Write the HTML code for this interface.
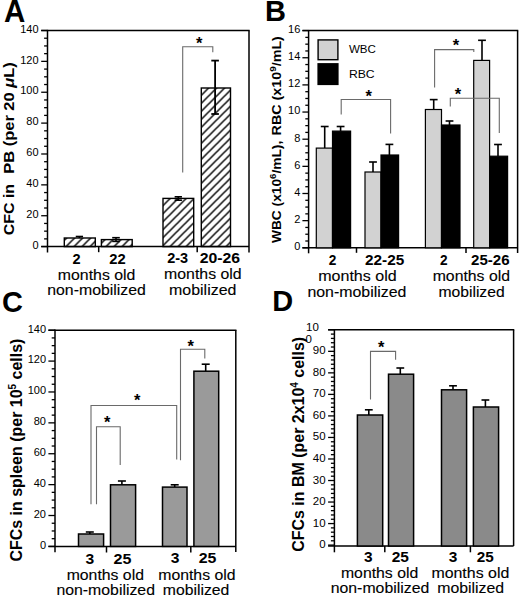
<!DOCTYPE html><html><head><meta charset="utf-8"><style>html,body{margin:0;padding:0;background:#fff;}svg{display:block;}text{font-family:"Liberation Sans",sans-serif;white-space:pre;}</style></head><body>
<svg width="520" height="600" viewBox="0 0 520 600">
<defs><pattern id="hatch" patternUnits="userSpaceOnUse" x="0.6" y="0" width="8" height="8"><path d="M-1,9 L9,-1 M-1,1 L1,-1 M7,9 L9,7" stroke="#111" stroke-width="1.55"/></pattern></defs>
<rect width="520" height="600" fill="#fff"/>
<text x="3.9" y="21.5" font-size="31" font-weight="bold" text-anchor="start" textLength="21.3" lengthAdjust="spacingAndGlyphs" fill="#000">A</text>
<text x="265.1" y="21.4" font-size="29" font-weight="bold" text-anchor="start" fill="#000">B</text>
<text x="2.1" y="311.5" font-size="30" font-weight="bold" text-anchor="start" textLength="20.94" lengthAdjust="spacingAndGlyphs" fill="#000">C</text>
<text x="272.3" y="311.3" font-size="30.2" font-weight="bold" text-anchor="start" textLength="20.94" lengthAdjust="spacingAndGlyphs" fill="#000">D</text>
<line x1="41.2" y1="246.6" x2="47.5" y2="246.6" stroke="#000" stroke-width="1.3"/>
<text x="38.6" y="248.8" font-size="11" text-anchor="end" fill="#000">0</text>
<line x1="44.1" y1="238.88" x2="47.5" y2="238.88" stroke="#000" stroke-width="1.3"/>
<line x1="44.1" y1="231.16" x2="47.5" y2="231.16" stroke="#000" stroke-width="1.3"/>
<line x1="44.1" y1="223.45" x2="47.5" y2="223.45" stroke="#000" stroke-width="1.3"/>
<line x1="41.2" y1="215.73" x2="47.5" y2="215.73" stroke="#000" stroke-width="1.3"/>
<text x="38.6" y="217.93" font-size="11" text-anchor="end" fill="#000">20</text>
<line x1="44.1" y1="208.01" x2="47.5" y2="208.01" stroke="#000" stroke-width="1.3"/>
<line x1="44.1" y1="200.29" x2="47.5" y2="200.29" stroke="#000" stroke-width="1.3"/>
<line x1="44.1" y1="192.57" x2="47.5" y2="192.57" stroke="#000" stroke-width="1.3"/>
<line x1="41.2" y1="184.86" x2="47.5" y2="184.86" stroke="#000" stroke-width="1.3"/>
<text x="38.6" y="187.06" font-size="11" text-anchor="end" fill="#000">40</text>
<line x1="44.1" y1="177.14" x2="47.5" y2="177.14" stroke="#000" stroke-width="1.3"/>
<line x1="44.1" y1="169.42" x2="47.5" y2="169.42" stroke="#000" stroke-width="1.3"/>
<line x1="44.1" y1="161.7" x2="47.5" y2="161.7" stroke="#000" stroke-width="1.3"/>
<line x1="41.2" y1="153.99" x2="47.5" y2="153.99" stroke="#000" stroke-width="1.3"/>
<text x="38.6" y="156.19" font-size="11" text-anchor="end" fill="#000">60</text>
<line x1="44.1" y1="146.27" x2="47.5" y2="146.27" stroke="#000" stroke-width="1.3"/>
<line x1="44.1" y1="138.55" x2="47.5" y2="138.55" stroke="#000" stroke-width="1.3"/>
<line x1="44.1" y1="130.83" x2="47.5" y2="130.83" stroke="#000" stroke-width="1.3"/>
<line x1="41.2" y1="123.11" x2="47.5" y2="123.11" stroke="#000" stroke-width="1.3"/>
<text x="38.6" y="125.31" font-size="11" text-anchor="end" fill="#000">80</text>
<line x1="44.1" y1="115.4" x2="47.5" y2="115.4" stroke="#000" stroke-width="1.3"/>
<line x1="44.1" y1="107.68" x2="47.5" y2="107.68" stroke="#000" stroke-width="1.3"/>
<line x1="44.1" y1="99.96" x2="47.5" y2="99.96" stroke="#000" stroke-width="1.3"/>
<line x1="41.2" y1="92.24" x2="47.5" y2="92.24" stroke="#000" stroke-width="1.3"/>
<text x="38.6" y="94.44" font-size="11" text-anchor="end" fill="#000">100</text>
<line x1="44.1" y1="84.53" x2="47.5" y2="84.53" stroke="#000" stroke-width="1.3"/>
<line x1="44.1" y1="76.81" x2="47.5" y2="76.81" stroke="#000" stroke-width="1.3"/>
<line x1="44.1" y1="69.09" x2="47.5" y2="69.09" stroke="#000" stroke-width="1.3"/>
<line x1="41.2" y1="61.37" x2="47.5" y2="61.37" stroke="#000" stroke-width="1.3"/>
<text x="38.6" y="63.57" font-size="11" text-anchor="end" fill="#000">120</text>
<line x1="44.1" y1="53.65" x2="47.5" y2="53.65" stroke="#000" stroke-width="1.3"/>
<line x1="44.1" y1="45.94" x2="47.5" y2="45.94" stroke="#000" stroke-width="1.3"/>
<line x1="44.1" y1="38.22" x2="47.5" y2="38.22" stroke="#000" stroke-width="1.3"/>
<line x1="41.2" y1="30.5" x2="47.5" y2="30.5" stroke="#000" stroke-width="1.3"/>
<text x="38.6" y="32.7" font-size="11" text-anchor="end" fill="#000">140</text>
<line x1="41.2" y1="30.5" x2="249.65" y2="30.5" stroke="#000" stroke-width="1.5"/>
<line x1="249" y1="30.5" x2="249" y2="252.5" stroke="#000" stroke-width="1.5"/>
<line x1="47.5" y1="29.85" x2="47.5" y2="252.5" stroke="#000" stroke-width="1.5"/>
<line x1="41.2" y1="246.6" x2="249" y2="246.6" stroke="#000" stroke-width="1.5"/>
<line x1="98.7" y1="246.6" x2="98.7" y2="252.2" stroke="#000" stroke-width="1.5"/>
<line x1="197.2" y1="246.6" x2="197.2" y2="252.2" stroke="#000" stroke-width="1.5"/>
<rect x="64.3" y="238" width="31.0" height="8.6" fill="url(#hatch)" stroke="#000" stroke-width="1.4"/>
<rect x="101.4" y="239.6" width="30.8" height="7.0" fill="url(#hatch)" stroke="#000" stroke-width="1.4"/>
<rect x="163" y="198.4" width="30.7" height="48.2" fill="url(#hatch)" stroke="#000" stroke-width="1.4"/>
<rect x="201.3" y="88" width="29.2" height="158.6" fill="url(#hatch)" stroke="#000" stroke-width="1.4"/>
<line x1="215.1" y1="60.6" x2="215.1" y2="114" stroke="#000" stroke-width="1.8"/>
<line x1="211.3" y1="60.6" x2="218.9" y2="60.6" stroke="#000" stroke-width="1.8"/>
<line x1="211.3" y1="114" x2="218.9" y2="114" stroke="#000" stroke-width="1.8"/>
<line x1="79.4" y1="236.5" x2="79.4" y2="238" stroke="#000" stroke-width="1.6"/>
<line x1="75.75" y1="236.5" x2="83.05" y2="236.5" stroke="#000" stroke-width="1.6"/>
<line x1="116" y1="237.7" x2="116" y2="241.4" stroke="#000" stroke-width="1.6"/>
<line x1="112.2" y1="237.7" x2="119.8" y2="237.7" stroke="#000" stroke-width="1.6"/>
<line x1="112.2" y1="241.4" x2="119.8" y2="241.4" stroke="#000" stroke-width="1.6"/>
<line x1="178.3" y1="196.8" x2="178.3" y2="200.2" stroke="#000" stroke-width="1.6"/>
<line x1="174.65" y1="196.8" x2="181.95" y2="196.8" stroke="#000" stroke-width="1.6"/>
<line x1="174.65" y1="200.2" x2="181.95" y2="200.2" stroke="#000" stroke-width="1.6"/>
<path d="M182.7,172.6 L182.7,46.8 L212.8,46.8 L212.8,52.2" fill="none" stroke="#6a6a6a" stroke-width="1.1"/>
<text x="199.1" y="49.03" font-size="16.5" font-weight="bold" text-anchor="middle" fill="#000">*</text>
<text transform="translate(14.4,235.2) rotate(-90)" x="0" y="0" font-size="15.5" font-weight="bold" textLength="51.3" lengthAdjust="spacingAndGlyphs" fill="#000">CFC in</text>
<text transform="translate(14.4,173.8) rotate(-90)" x="0" y="0" font-size="15.5" font-weight="bold" textLength="111.6" lengthAdjust="spacingAndGlyphs" fill="#000">PB (per 20 <tspan font-style="italic">μ</tspan>L)</text>
<text x="76.45" y="263.5" font-size="14" font-weight="bold" text-anchor="middle" textLength="8.1" lengthAdjust="spacingAndGlyphs" fill="#000">2</text>
<text x="117.5" y="263.5" font-size="14" font-weight="bold" text-anchor="middle" textLength="16.4" lengthAdjust="spacingAndGlyphs" fill="#000">22</text>
<text x="177.65" y="263.3" font-size="14" font-weight="bold" text-anchor="middle" textLength="20.9" lengthAdjust="spacingAndGlyphs" fill="#000">2-3</text>
<text x="219.9" y="263.3" font-size="14" font-weight="bold" text-anchor="middle" textLength="40.4" lengthAdjust="spacingAndGlyphs" fill="#000">20-26</text>
<text x="96.6" y="279.6" font-size="14.3" text-anchor="middle" textLength="77.5" lengthAdjust="spacingAndGlyphs" fill="#000" stroke="#000" stroke-width="0.12">months old</text>
<text x="96.55" y="294.6" font-size="14.3" text-anchor="middle" textLength="98.6" lengthAdjust="spacingAndGlyphs" fill="#000" stroke="#000" stroke-width="0.12">non-mobilized</text>
<text x="202.85" y="279.4" font-size="14.3" text-anchor="middle" textLength="77.5" lengthAdjust="spacingAndGlyphs" fill="#000" stroke="#000" stroke-width="0.12">months old</text>
<text x="202.75" y="294.8" font-size="14.3" text-anchor="middle" textLength="67.3" lengthAdjust="spacingAndGlyphs" fill="#000" stroke="#000" stroke-width="0.12">mobilized</text>
<line x1="302.40000000000003" y1="247.8" x2="308.6" y2="247.8" stroke="#000" stroke-width="1.3"/>
<text x="300.3" y="250.1" font-size="11" text-anchor="end" fill="#000">0</text>
<line x1="305.3" y1="241.01" x2="308.6" y2="241.01" stroke="#000" stroke-width="1.3"/>
<line x1="305.3" y1="234.23" x2="308.6" y2="234.23" stroke="#000" stroke-width="1.3"/>
<line x1="305.3" y1="227.44" x2="308.6" y2="227.44" stroke="#000" stroke-width="1.3"/>
<line x1="302.40000000000003" y1="220.65" x2="308.6" y2="220.65" stroke="#000" stroke-width="1.3"/>
<text x="300.3" y="222.95" font-size="11" text-anchor="end" fill="#000">2</text>
<line x1="305.3" y1="213.86" x2="308.6" y2="213.86" stroke="#000" stroke-width="1.3"/>
<line x1="305.3" y1="207.08" x2="308.6" y2="207.08" stroke="#000" stroke-width="1.3"/>
<line x1="305.3" y1="200.29" x2="308.6" y2="200.29" stroke="#000" stroke-width="1.3"/>
<line x1="302.40000000000003" y1="193.5" x2="308.6" y2="193.5" stroke="#000" stroke-width="1.3"/>
<text x="300.3" y="195.8" font-size="11" text-anchor="end" fill="#000">4</text>
<line x1="305.3" y1="186.71" x2="308.6" y2="186.71" stroke="#000" stroke-width="1.3"/>
<line x1="305.3" y1="179.93" x2="308.6" y2="179.93" stroke="#000" stroke-width="1.3"/>
<line x1="305.3" y1="173.14" x2="308.6" y2="173.14" stroke="#000" stroke-width="1.3"/>
<line x1="302.40000000000003" y1="166.35" x2="308.6" y2="166.35" stroke="#000" stroke-width="1.3"/>
<text x="300.3" y="168.65" font-size="11" text-anchor="end" fill="#000">6</text>
<line x1="305.3" y1="159.56" x2="308.6" y2="159.56" stroke="#000" stroke-width="1.3"/>
<line x1="305.3" y1="152.78" x2="308.6" y2="152.78" stroke="#000" stroke-width="1.3"/>
<line x1="305.3" y1="145.99" x2="308.6" y2="145.99" stroke="#000" stroke-width="1.3"/>
<line x1="302.40000000000003" y1="139.2" x2="308.6" y2="139.2" stroke="#000" stroke-width="1.3"/>
<text x="300.3" y="141.5" font-size="11" text-anchor="end" fill="#000">8</text>
<line x1="305.3" y1="132.41" x2="308.6" y2="132.41" stroke="#000" stroke-width="1.3"/>
<line x1="305.3" y1="125.62" x2="308.6" y2="125.62" stroke="#000" stroke-width="1.3"/>
<line x1="305.3" y1="118.84" x2="308.6" y2="118.84" stroke="#000" stroke-width="1.3"/>
<line x1="302.40000000000003" y1="112.05" x2="308.6" y2="112.05" stroke="#000" stroke-width="1.3"/>
<text x="300.3" y="114.35" font-size="11" text-anchor="end" fill="#000">10</text>
<line x1="305.3" y1="105.26" x2="308.6" y2="105.26" stroke="#000" stroke-width="1.3"/>
<line x1="305.3" y1="98.47" x2="308.6" y2="98.47" stroke="#000" stroke-width="1.3"/>
<line x1="305.3" y1="91.69" x2="308.6" y2="91.69" stroke="#000" stroke-width="1.3"/>
<line x1="302.40000000000003" y1="84.9" x2="308.6" y2="84.9" stroke="#000" stroke-width="1.3"/>
<text x="300.3" y="87.2" font-size="11" text-anchor="end" fill="#000">12</text>
<line x1="305.3" y1="78.11" x2="308.6" y2="78.11" stroke="#000" stroke-width="1.3"/>
<line x1="305.3" y1="71.32" x2="308.6" y2="71.32" stroke="#000" stroke-width="1.3"/>
<line x1="305.3" y1="64.54" x2="308.6" y2="64.54" stroke="#000" stroke-width="1.3"/>
<line x1="302.40000000000003" y1="57.75" x2="308.6" y2="57.75" stroke="#000" stroke-width="1.3"/>
<text x="300.3" y="60.05" font-size="11" text-anchor="end" fill="#000">14</text>
<line x1="305.3" y1="50.96" x2="308.6" y2="50.96" stroke="#000" stroke-width="1.3"/>
<line x1="305.3" y1="44.17" x2="308.6" y2="44.17" stroke="#000" stroke-width="1.3"/>
<line x1="305.3" y1="37.39" x2="308.6" y2="37.39" stroke="#000" stroke-width="1.3"/>
<line x1="302.40000000000003" y1="30.6" x2="308.6" y2="30.6" stroke="#000" stroke-width="1.3"/>
<text x="300.3" y="32.9" font-size="11" text-anchor="end" fill="#000">16</text>
<line x1="302.40000000000003" y1="30.6" x2="518.25" y2="30.6" stroke="#000" stroke-width="1.5"/>
<line x1="517.6" y1="30.6" x2="517.6" y2="253" stroke="#000" stroke-width="1.5"/>
<line x1="308.6" y1="29.950000000000003" x2="308.6" y2="253.3" stroke="#000" stroke-width="1.5"/>
<line x1="302.40000000000003" y1="247.8" x2="517.6" y2="247.8" stroke="#000" stroke-width="1.5"/>
<line x1="356.5" y1="247.8" x2="356.5" y2="252.8" stroke="#000" stroke-width="1.5"/>
<line x1="466" y1="247.8" x2="466" y2="253" stroke="#000" stroke-width="1.5"/>
<rect x="318.1" y="39.9" width="19.8" height="19.8" fill="#d2d2d2" stroke="#000" stroke-width="1.4"/>
<rect x="317.4" y="63.1" width="21.2" height="22" fill="#000"/>
<text x="348.9" y="53.4" font-size="11.5" text-anchor="start" textLength="27" lengthAdjust="spacingAndGlyphs" fill="#000">WBC</text>
<text x="348.9" y="78.2" font-size="11.5" text-anchor="start" textLength="25.8" lengthAdjust="spacingAndGlyphs" fill="#000">RBC</text>
<line x1="324.7" y1="126.5" x2="324.7" y2="148.1" stroke="#000" stroke-width="1.6"/>
<line x1="320.8" y1="126.5" x2="328.6" y2="126.5" stroke="#000" stroke-width="1.6"/>
<line x1="340.6" y1="126.5" x2="340.6" y2="131.1" stroke="#000" stroke-width="1.6"/>
<line x1="336.7" y1="126.5" x2="344.5" y2="126.5" stroke="#000" stroke-width="1.6"/>
<rect x="316.3" y="148.1" width="16.2" height="99.7" fill="#d2d2d2" stroke="#000" stroke-width="1.2"/>
<rect x="332.5" y="131.1" width="18.1" height="116.7" fill="#000" stroke="#000" stroke-width="1.2"/>
<line x1="373" y1="162" x2="373" y2="172" stroke="#000" stroke-width="1.6"/>
<line x1="369.1" y1="162" x2="376.9" y2="162" stroke="#000" stroke-width="1.6"/>
<line x1="389.4" y1="144.4" x2="389.4" y2="155" stroke="#000" stroke-width="1.6"/>
<line x1="385.5" y1="144.4" x2="393.3" y2="144.4" stroke="#000" stroke-width="1.6"/>
<rect x="365" y="172" width="16" height="75.8" fill="#d2d2d2" stroke="#000" stroke-width="1.2"/>
<rect x="381" y="155" width="17.6" height="92.8" fill="#000" stroke="#000" stroke-width="1.2"/>
<line x1="433.7" y1="99.6" x2="433.7" y2="109.5" stroke="#000" stroke-width="1.6"/>
<line x1="429.8" y1="99.6" x2="437.6" y2="99.6" stroke="#000" stroke-width="1.6"/>
<line x1="449.5" y1="121" x2="449.5" y2="125" stroke="#000" stroke-width="1.6"/>
<line x1="445.6" y1="121" x2="453.4" y2="121" stroke="#000" stroke-width="1.6"/>
<rect x="425.4" y="109.5" width="16.1" height="138.3" fill="#d2d2d2" stroke="#000" stroke-width="1.2"/>
<rect x="441.5" y="125" width="18.5" height="122.8" fill="#000" stroke="#000" stroke-width="1.2"/>
<line x1="482" y1="40.3" x2="482" y2="60.4" stroke="#000" stroke-width="1.6"/>
<line x1="478.1" y1="40.3" x2="485.9" y2="40.3" stroke="#000" stroke-width="1.6"/>
<line x1="498" y1="144.5" x2="498" y2="156.2" stroke="#000" stroke-width="1.6"/>
<line x1="494.1" y1="144.5" x2="501.9" y2="144.5" stroke="#000" stroke-width="1.6"/>
<rect x="473.7" y="60.4" width="15.9" height="187.4" fill="#d2d2d2" stroke="#000" stroke-width="1.2"/>
<rect x="489.6" y="156.2" width="18.0" height="91.6" fill="#000" stroke="#000" stroke-width="1.2"/>
<path d="M341.2,114.5 L341.2,99.5 L390.6,99.5 L390.6,133.6" fill="none" stroke="#6a6a6a" stroke-width="1.1"/>
<text x="368.6" y="102.33" font-size="16.5" font-weight="bold" text-anchor="middle" fill="#000">*</text>
<path d="M434.6,87.6 L434.6,49.6 L473.8,49.6 L473.8,52" fill="none" stroke="#6a6a6a" stroke-width="1.1"/>
<text x="456" y="51.33" font-size="16.5" font-weight="bold" text-anchor="middle" fill="#000">*</text>
<path d="M450.3,106.5 L450.3,98.2 L499.3,98.2 L499.3,133" fill="none" stroke="#6a6a6a" stroke-width="1.1"/>
<text x="458" y="99.83" font-size="16.5" font-weight="bold" text-anchor="middle" fill="#000">*</text>
<text transform="translate(281,243.1) rotate(-90)" x="0" y="0" font-size="13" font-weight="bold" textLength="102.4" lengthAdjust="spacingAndGlyphs" fill="#000">WBC (x10<tspan font-size="9" dy="-5">6</tspan><tspan dy="5">/mL),</tspan></text>
<text transform="translate(281,135.4) rotate(-90)" x="0" y="0" font-size="13" font-weight="bold" textLength="99.3" lengthAdjust="spacingAndGlyphs" fill="#000">RBC (x10<tspan font-size="9" dy="-5">9</tspan><tspan dy="5">/mL)</tspan></text>
<text x="332.5" y="265" font-size="14" font-weight="bold" text-anchor="middle" textLength="7.6" lengthAdjust="spacingAndGlyphs" fill="#000">2</text>
<text x="384.6" y="265" font-size="14" font-weight="bold" text-anchor="middle" textLength="39.2" lengthAdjust="spacingAndGlyphs" fill="#000">22-25</text>
<text x="443.8" y="265" font-size="14" font-weight="bold" text-anchor="middle" textLength="7.6" lengthAdjust="spacingAndGlyphs" fill="#000">2</text>
<text x="490.3" y="265" font-size="14" font-weight="bold" text-anchor="middle" textLength="38.5" lengthAdjust="spacingAndGlyphs" fill="#000">25-26</text>
<text x="357.45" y="281.3" font-size="14.3" text-anchor="middle" textLength="78.5" lengthAdjust="spacingAndGlyphs" fill="#000" stroke="#000" stroke-width="0.12">months old</text>
<text x="356.9" y="296.8" font-size="14.3" text-anchor="middle" textLength="99" lengthAdjust="spacingAndGlyphs" fill="#000" stroke="#000" stroke-width="0.12">non-mobilized</text>
<text x="471.35" y="281.3" font-size="14.3" text-anchor="middle" textLength="77.3" lengthAdjust="spacingAndGlyphs" fill="#000" stroke="#000" stroke-width="0.12">months old</text>
<text x="471.55" y="297.1" font-size="14.3" text-anchor="middle" textLength="66.3" lengthAdjust="spacingAndGlyphs" fill="#000" stroke="#000" stroke-width="0.12">mobilized</text>
<line x1="48.4" y1="546.4" x2="55" y2="546.4" stroke="#000" stroke-width="1.3"/>
<text x="46" y="548.7" font-size="11" text-anchor="end" fill="#000">0</text>
<line x1="51.7" y1="538.68" x2="55" y2="538.68" stroke="#000" stroke-width="1.3"/>
<line x1="51.7" y1="530.96" x2="55" y2="530.96" stroke="#000" stroke-width="1.3"/>
<line x1="51.7" y1="523.24" x2="55" y2="523.24" stroke="#000" stroke-width="1.3"/>
<line x1="48.4" y1="515.51" x2="55" y2="515.51" stroke="#000" stroke-width="1.3"/>
<text x="46" y="517.81" font-size="11" text-anchor="end" fill="#000">20</text>
<line x1="51.7" y1="507.79" x2="55" y2="507.79" stroke="#000" stroke-width="1.3"/>
<line x1="51.7" y1="500.07" x2="55" y2="500.07" stroke="#000" stroke-width="1.3"/>
<line x1="51.7" y1="492.35" x2="55" y2="492.35" stroke="#000" stroke-width="1.3"/>
<line x1="48.4" y1="484.63" x2="55" y2="484.63" stroke="#000" stroke-width="1.3"/>
<text x="46" y="486.93" font-size="11" text-anchor="end" fill="#000">40</text>
<line x1="51.7" y1="476.91" x2="55" y2="476.91" stroke="#000" stroke-width="1.3"/>
<line x1="51.7" y1="469.19" x2="55" y2="469.19" stroke="#000" stroke-width="1.3"/>
<line x1="51.7" y1="461.46" x2="55" y2="461.46" stroke="#000" stroke-width="1.3"/>
<line x1="48.4" y1="453.74" x2="55" y2="453.74" stroke="#000" stroke-width="1.3"/>
<text x="46" y="456.04" font-size="11" text-anchor="end" fill="#000">60</text>
<line x1="51.7" y1="446.02" x2="55" y2="446.02" stroke="#000" stroke-width="1.3"/>
<line x1="51.7" y1="438.3" x2="55" y2="438.3" stroke="#000" stroke-width="1.3"/>
<line x1="51.7" y1="430.58" x2="55" y2="430.58" stroke="#000" stroke-width="1.3"/>
<line x1="48.4" y1="422.86" x2="55" y2="422.86" stroke="#000" stroke-width="1.3"/>
<text x="46" y="425.16" font-size="11" text-anchor="end" fill="#000">80</text>
<line x1="51.7" y1="415.14" x2="55" y2="415.14" stroke="#000" stroke-width="1.3"/>
<line x1="51.7" y1="407.41" x2="55" y2="407.41" stroke="#000" stroke-width="1.3"/>
<line x1="51.7" y1="399.69" x2="55" y2="399.69" stroke="#000" stroke-width="1.3"/>
<line x1="48.4" y1="391.97" x2="55" y2="391.97" stroke="#000" stroke-width="1.3"/>
<text x="46" y="394.27" font-size="11" text-anchor="end" fill="#000">100</text>
<line x1="51.7" y1="384.25" x2="55" y2="384.25" stroke="#000" stroke-width="1.3"/>
<line x1="51.7" y1="376.53" x2="55" y2="376.53" stroke="#000" stroke-width="1.3"/>
<line x1="51.7" y1="368.81" x2="55" y2="368.81" stroke="#000" stroke-width="1.3"/>
<line x1="48.4" y1="361.09" x2="55" y2="361.09" stroke="#000" stroke-width="1.3"/>
<text x="46" y="363.39" font-size="11" text-anchor="end" fill="#000">120</text>
<line x1="51.7" y1="353.36" x2="55" y2="353.36" stroke="#000" stroke-width="1.3"/>
<line x1="51.7" y1="345.64" x2="55" y2="345.64" stroke="#000" stroke-width="1.3"/>
<line x1="51.7" y1="337.92" x2="55" y2="337.92" stroke="#000" stroke-width="1.3"/>
<line x1="48.4" y1="330.2" x2="55" y2="330.2" stroke="#000" stroke-width="1.3"/>
<text x="46" y="332.5" font-size="11" text-anchor="end" fill="#000">140</text>
<line x1="48.4" y1="330.2" x2="236.45000000000002" y2="330.2" stroke="#000" stroke-width="1.5"/>
<line x1="235.8" y1="330.2" x2="235.8" y2="552" stroke="#000" stroke-width="1.5"/>
<line x1="55" y1="329.55" x2="55" y2="552.3" stroke="#000" stroke-width="1.5"/>
<line x1="48.4" y1="546.4" x2="235.8" y2="546.4" stroke="#000" stroke-width="1.5"/>
<line x1="106.5" y1="546.4" x2="106.5" y2="552.5" stroke="#000" stroke-width="1.5"/>
<line x1="190.8" y1="546.4" x2="190.8" y2="552.5" stroke="#000" stroke-width="1.5"/>
<line x1="89.8" y1="532" x2="89.8" y2="534" stroke="#000" stroke-width="1.6"/>
<line x1="85.8" y1="532" x2="93.8" y2="532" stroke="#000" stroke-width="1.6"/>
<rect x="78.5" y="534" width="25.1" height="12.4" fill="#9a9a9a" stroke="#000" stroke-width="1.5"/>
<line x1="121.9" y1="481" x2="121.9" y2="484.8" stroke="#000" stroke-width="1.6"/>
<line x1="117.9" y1="481" x2="125.9" y2="481" stroke="#000" stroke-width="1.6"/>
<rect x="110.5" y="484.8" width="25.1" height="61.6" fill="#9a9a9a" stroke="#000" stroke-width="1.5"/>
<line x1="174.7" y1="484.8" x2="174.7" y2="487.1" stroke="#000" stroke-width="1.6"/>
<line x1="170.7" y1="484.8" x2="178.7" y2="484.8" stroke="#000" stroke-width="1.6"/>
<rect x="162.5" y="487.1" width="24.5" height="59.3" fill="#9a9a9a" stroke="#000" stroke-width="1.5"/>
<line x1="205.7" y1="364.2" x2="205.7" y2="371.2" stroke="#000" stroke-width="1.6"/>
<line x1="201.7" y1="364.2" x2="209.7" y2="364.2" stroke="#000" stroke-width="1.6"/>
<rect x="193.9" y="371.2" width="24.8" height="175.2" fill="#9a9a9a" stroke="#000" stroke-width="1.5"/>
<path d="M180.5,460.2 L180.5,349.2 L204.8,349.2 L204.8,358.5" fill="none" stroke="#6a6a6a" stroke-width="1.1"/>
<text x="190.7" y="351.93" font-size="16.5" font-weight="bold" text-anchor="middle" fill="#000">*</text>
<path d="M91,504.2 L91,405.5 L176.7,405.5 L176.7,459.5" fill="none" stroke="#6a6a6a" stroke-width="1.1"/>
<text x="137.1" y="406.43" font-size="16.5" font-weight="bold" text-anchor="middle" fill="#000">*</text>
<path d="M96.5,504.2 L96.5,426.8 L120.2,426.8 L120.2,465" fill="none" stroke="#6a6a6a" stroke-width="1.1"/>
<text x="107.1" y="428.23" font-size="16.5" font-weight="bold" text-anchor="middle" fill="#000">*</text>
<text transform="translate(21.7,561.6) rotate(-90)" x="0" y="0" font-size="16" font-weight="bold" textLength="223" lengthAdjust="spacingAndGlyphs" fill="#000">CFCs in spleen (per 10<tspan font-size="10" dy="-6">5</tspan><tspan dy="6"> cells)</tspan></text>
<text x="89.8" y="563.9" font-size="14" font-weight="bold" text-anchor="middle" textLength="8.7" lengthAdjust="spacingAndGlyphs" fill="#000">3</text>
<text x="122.5" y="563.9" font-size="14" font-weight="bold" text-anchor="middle" textLength="17.9" lengthAdjust="spacingAndGlyphs" fill="#000">25</text>
<text x="175" y="563.3" font-size="14" font-weight="bold" text-anchor="middle" textLength="8.7" lengthAdjust="spacingAndGlyphs" fill="#000">3</text>
<text x="207.6" y="563.3" font-size="14" font-weight="bold" text-anchor="middle" textLength="17.7" lengthAdjust="spacingAndGlyphs" fill="#000">25</text>
<text x="105.3" y="580.0" font-size="14.3" text-anchor="middle" textLength="77.3" lengthAdjust="spacingAndGlyphs" fill="#000" stroke="#000" stroke-width="0.12">months old</text>
<text x="105.7" y="594.9" font-size="14.3" text-anchor="middle" textLength="98.6" lengthAdjust="spacingAndGlyphs" fill="#000" stroke="#000" stroke-width="0.12">non-mobilized</text>
<text x="196.9" y="580.0" font-size="14.3" text-anchor="middle" textLength="77.3" lengthAdjust="spacingAndGlyphs" fill="#000" stroke="#000" stroke-width="0.12">months old</text>
<text x="196.1" y="594.9" font-size="14.3" text-anchor="middle" textLength="66.6" lengthAdjust="spacingAndGlyphs" fill="#000" stroke="#000" stroke-width="0.12">mobilized</text>
<line x1="328.09999999999997" y1="545.1" x2="334.4" y2="545.1" stroke="#000" stroke-width="1.3"/>
<text x="325.6" y="548.1" font-size="11.5" text-anchor="end" fill="#000">0</text>
<line x1="330.9" y1="540.79" x2="334.4" y2="540.79" stroke="#000" stroke-width="1.3"/>
<line x1="330.9" y1="536.49" x2="334.4" y2="536.49" stroke="#000" stroke-width="1.3"/>
<line x1="330.9" y1="532.18" x2="334.4" y2="532.18" stroke="#000" stroke-width="1.3"/>
<line x1="330.9" y1="527.88" x2="334.4" y2="527.88" stroke="#000" stroke-width="1.3"/>
<line x1="328.09999999999997" y1="523.57" x2="334.4" y2="523.57" stroke="#000" stroke-width="1.3"/>
<text x="325.6" y="526.57" font-size="11.5" text-anchor="end" fill="#000">10</text>
<line x1="330.9" y1="519.26" x2="334.4" y2="519.26" stroke="#000" stroke-width="1.3"/>
<line x1="330.9" y1="514.96" x2="334.4" y2="514.96" stroke="#000" stroke-width="1.3"/>
<line x1="330.9" y1="510.65" x2="334.4" y2="510.65" stroke="#000" stroke-width="1.3"/>
<line x1="330.9" y1="506.35" x2="334.4" y2="506.35" stroke="#000" stroke-width="1.3"/>
<line x1="328.09999999999997" y1="502.04" x2="334.4" y2="502.04" stroke="#000" stroke-width="1.3"/>
<text x="325.6" y="505.04" font-size="11.5" text-anchor="end" fill="#000">20</text>
<line x1="330.9" y1="497.73" x2="334.4" y2="497.73" stroke="#000" stroke-width="1.3"/>
<line x1="330.9" y1="493.43" x2="334.4" y2="493.43" stroke="#000" stroke-width="1.3"/>
<line x1="330.9" y1="489.12" x2="334.4" y2="489.12" stroke="#000" stroke-width="1.3"/>
<line x1="330.9" y1="484.82" x2="334.4" y2="484.82" stroke="#000" stroke-width="1.3"/>
<line x1="328.09999999999997" y1="480.51" x2="334.4" y2="480.51" stroke="#000" stroke-width="1.3"/>
<text x="325.6" y="483.51" font-size="11.5" text-anchor="end" fill="#000">30</text>
<line x1="330.9" y1="476.2" x2="334.4" y2="476.2" stroke="#000" stroke-width="1.3"/>
<line x1="330.9" y1="471.9" x2="334.4" y2="471.9" stroke="#000" stroke-width="1.3"/>
<line x1="330.9" y1="467.59" x2="334.4" y2="467.59" stroke="#000" stroke-width="1.3"/>
<line x1="330.9" y1="463.29" x2="334.4" y2="463.29" stroke="#000" stroke-width="1.3"/>
<line x1="328.09999999999997" y1="458.98" x2="334.4" y2="458.98" stroke="#000" stroke-width="1.3"/>
<text x="325.6" y="461.98" font-size="11.5" text-anchor="end" fill="#000">40</text>
<line x1="330.9" y1="454.67" x2="334.4" y2="454.67" stroke="#000" stroke-width="1.3"/>
<line x1="330.9" y1="450.37" x2="334.4" y2="450.37" stroke="#000" stroke-width="1.3"/>
<line x1="330.9" y1="446.06" x2="334.4" y2="446.06" stroke="#000" stroke-width="1.3"/>
<line x1="330.9" y1="441.76" x2="334.4" y2="441.76" stroke="#000" stroke-width="1.3"/>
<line x1="328.09999999999997" y1="437.45" x2="334.4" y2="437.45" stroke="#000" stroke-width="1.3"/>
<text x="325.6" y="440.45" font-size="11.5" text-anchor="end" fill="#000">50</text>
<line x1="330.9" y1="433.14" x2="334.4" y2="433.14" stroke="#000" stroke-width="1.3"/>
<line x1="330.9" y1="428.84" x2="334.4" y2="428.84" stroke="#000" stroke-width="1.3"/>
<line x1="330.9" y1="424.53" x2="334.4" y2="424.53" stroke="#000" stroke-width="1.3"/>
<line x1="330.9" y1="420.23" x2="334.4" y2="420.23" stroke="#000" stroke-width="1.3"/>
<line x1="328.09999999999997" y1="415.92" x2="334.4" y2="415.92" stroke="#000" stroke-width="1.3"/>
<text x="325.6" y="418.92" font-size="11.5" text-anchor="end" fill="#000">60</text>
<line x1="330.9" y1="411.61" x2="334.4" y2="411.61" stroke="#000" stroke-width="1.3"/>
<line x1="330.9" y1="407.31" x2="334.4" y2="407.31" stroke="#000" stroke-width="1.3"/>
<line x1="330.9" y1="403.0" x2="334.4" y2="403.0" stroke="#000" stroke-width="1.3"/>
<line x1="330.9" y1="398.7" x2="334.4" y2="398.7" stroke="#000" stroke-width="1.3"/>
<line x1="328.09999999999997" y1="394.39" x2="334.4" y2="394.39" stroke="#000" stroke-width="1.3"/>
<text x="325.6" y="397.39" font-size="11.5" text-anchor="end" fill="#000">70</text>
<line x1="330.9" y1="390.08" x2="334.4" y2="390.08" stroke="#000" stroke-width="1.3"/>
<line x1="330.9" y1="385.78" x2="334.4" y2="385.78" stroke="#000" stroke-width="1.3"/>
<line x1="330.9" y1="381.47" x2="334.4" y2="381.47" stroke="#000" stroke-width="1.3"/>
<line x1="330.9" y1="377.17" x2="334.4" y2="377.17" stroke="#000" stroke-width="1.3"/>
<line x1="328.09999999999997" y1="372.86" x2="334.4" y2="372.86" stroke="#000" stroke-width="1.3"/>
<text x="325.6" y="375.86" font-size="11.5" text-anchor="end" fill="#000">80</text>
<line x1="330.9" y1="368.55" x2="334.4" y2="368.55" stroke="#000" stroke-width="1.3"/>
<line x1="330.9" y1="364.25" x2="334.4" y2="364.25" stroke="#000" stroke-width="1.3"/>
<line x1="330.9" y1="359.94" x2="334.4" y2="359.94" stroke="#000" stroke-width="1.3"/>
<line x1="330.9" y1="355.64" x2="334.4" y2="355.64" stroke="#000" stroke-width="1.3"/>
<line x1="328.09999999999997" y1="351.33" x2="334.4" y2="351.33" stroke="#000" stroke-width="1.3"/>
<text x="325.6" y="354.33" font-size="11.5" text-anchor="end" fill="#000">90</text>
<line x1="330.9" y1="347.02" x2="334.4" y2="347.02" stroke="#000" stroke-width="1.3"/>
<line x1="330.9" y1="342.72" x2="334.4" y2="342.72" stroke="#000" stroke-width="1.3"/>
<line x1="330.9" y1="338.41" x2="334.4" y2="338.41" stroke="#000" stroke-width="1.3"/>
<line x1="330.9" y1="334.11" x2="334.4" y2="334.11" stroke="#000" stroke-width="1.3"/>
<line x1="328.09999999999997" y1="329.8" x2="334.4" y2="329.8" stroke="#000" stroke-width="1.3"/>
<line x1="328.09999999999997" y1="329.8" x2="514.25" y2="329.8" stroke="#000" stroke-width="1.5"/>
<line x1="513.6" y1="329.8" x2="513.6" y2="546.0" stroke="#000" stroke-width="1.5"/>
<line x1="334.4" y1="329.15000000000003" x2="334.4" y2="552.3" stroke="#000" stroke-width="1.5"/>
<line x1="328.09999999999997" y1="546.0" x2="513.6" y2="546.0" stroke="#000" stroke-width="1.5"/>
<line x1="384.8" y1="546.0" x2="384.8" y2="552.3" stroke="#000" stroke-width="1.5"/>
<line x1="470.4" y1="546.0" x2="470.4" y2="552.3" stroke="#000" stroke-width="1.5"/>
<text x="318.8" y="331" font-size="11.5" text-anchor="end" fill="#000">10</text>
<text x="312" y="343.2" font-size="11.5" text-anchor="end" fill="#000">0</text>
<line x1="368.8" y1="409.8" x2="368.8" y2="415" stroke="#000" stroke-width="1.6"/>
<line x1="364.9" y1="409.8" x2="372.7" y2="409.8" stroke="#000" stroke-width="1.6"/>
<rect x="357.4" y="415" width="25.3" height="131.0" fill="#8a8a8a" stroke="#000" stroke-width="1.5"/>
<line x1="400.3" y1="368" x2="400.3" y2="374.2" stroke="#000" stroke-width="1.6"/>
<line x1="396.4" y1="368" x2="404.2" y2="368" stroke="#000" stroke-width="1.6"/>
<rect x="388.5" y="374.2" width="25.1" height="171.8" fill="#8a8a8a" stroke="#000" stroke-width="1.5"/>
<line x1="453" y1="385.8" x2="453" y2="389.8" stroke="#000" stroke-width="1.6"/>
<line x1="449.1" y1="385.8" x2="456.9" y2="385.8" stroke="#000" stroke-width="1.6"/>
<rect x="441.5" y="389.8" width="25.1" height="156.2" fill="#8a8a8a" stroke="#000" stroke-width="1.5"/>
<line x1="485.4" y1="400" x2="485.4" y2="407" stroke="#000" stroke-width="1.6"/>
<line x1="481.5" y1="400" x2="489.3" y2="400" stroke="#000" stroke-width="1.6"/>
<rect x="473.4" y="407" width="25.2" height="139.0" fill="#8a8a8a" stroke="#000" stroke-width="1.5"/>
<path d="M370.5,399.5 L370.5,351.4 L395.6,351.4 L395.6,359.8" fill="none" stroke="#6a6a6a" stroke-width="1.1"/>
<text x="381.2" y="353.23" font-size="16.5" font-weight="bold" text-anchor="middle" fill="#000">*</text>
<text transform="translate(304,551.8) rotate(-90)" x="0" y="0" font-size="16" font-weight="bold" textLength="215" lengthAdjust="spacingAndGlyphs" fill="#000">CFCs in BM (per 2x10<tspan font-size="10" dy="-6">4</tspan><tspan dy="6"> cells)</tspan></text>
<text x="368.4" y="561.9" font-size="14" font-weight="bold" text-anchor="middle" textLength="8.6" lengthAdjust="spacingAndGlyphs" fill="#000">3</text>
<text x="400.35" y="561.9" font-size="14" font-weight="bold" text-anchor="middle" textLength="17.2" lengthAdjust="spacingAndGlyphs" fill="#000">25</text>
<text x="453" y="562.2" font-size="14" font-weight="bold" text-anchor="middle" textLength="8.6" lengthAdjust="spacingAndGlyphs" fill="#000">3</text>
<text x="485.3" y="562.3" font-size="14" font-weight="bold" text-anchor="middle" textLength="17" lengthAdjust="spacingAndGlyphs" fill="#000">25</text>
<text x="379.6" y="577.8" font-size="14.3" text-anchor="middle" textLength="77.3" lengthAdjust="spacingAndGlyphs" fill="#000" stroke="#000" stroke-width="0.12">months old</text>
<text x="380" y="593.2" font-size="14.3" text-anchor="middle" textLength="98.6" lengthAdjust="spacingAndGlyphs" fill="#000" stroke="#000" stroke-width="0.12">non-mobilized</text>
<text x="470.35" y="577.8" font-size="14.3" text-anchor="middle" textLength="77.9" lengthAdjust="spacingAndGlyphs" fill="#000" stroke="#000" stroke-width="0.12">months old</text>
<text x="470.7" y="593.2" font-size="14.3" text-anchor="middle" textLength="67" lengthAdjust="spacingAndGlyphs" fill="#000" stroke="#000" stroke-width="0.12">mobilized</text>
</svg></body></html>
